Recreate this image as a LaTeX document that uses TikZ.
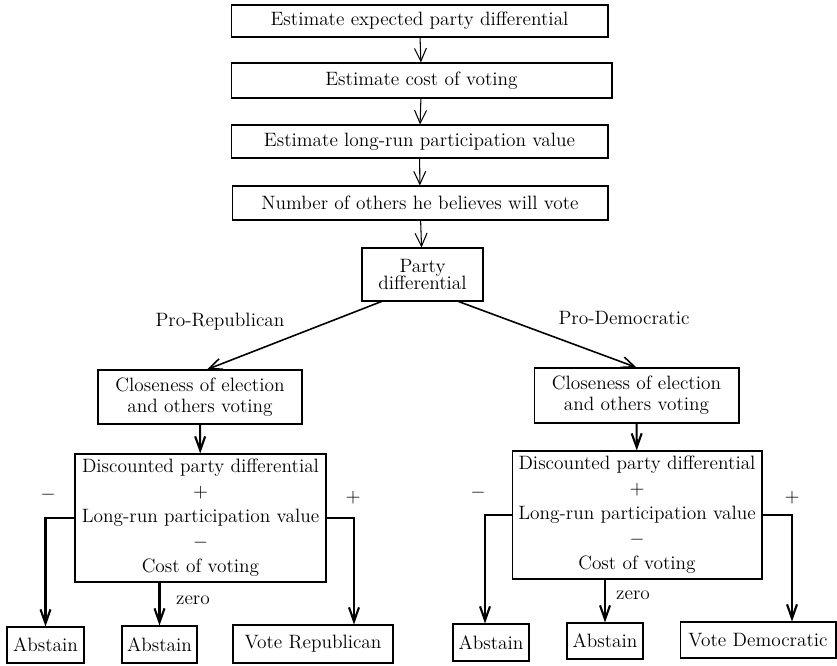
\documentclass[tikz,border=0pt]{standalone}
\usepackage{amsmath,amssymb}
\usepackage{tikz}
\usetikzlibrary{positioning,arrows.meta,calc}

\begin{document}
\begin{tikzpicture}[
  x=0.02cm, y=-0.02cm,
  lbl/.style={font=\fontsize{11}{13.5}\selectfont, inner sep=1pt},
  box/.style={draw=black, line width=0.6pt, inner sep=2pt, align=center, font=\fontsize{11}{13.5}\selectfont},
  thinarrow/.style={draw=black, line width=0.6pt, -{Straight Barb[length=2.6mm,width=2.4mm]}},
  diagarrow/.style={draw=black, line width=0.9pt, -{Straight Barb[length=2.6mm,width=2.2mm]}},
  branch/.style={draw=black, line width=1.2pt, -{Straight Barb[length=2.8mm,width=2mm]}}
]
\useasboundingbox (0,0) rectangle (837,665);

\node[box, minimum width=7.54cm, minimum height=0.64cm] (nest1) at (419.5,21) {Estimate expected party differential};
\node[box, minimum width=7.62cm, minimum height=0.70cm] (nest2) at (421.5,80.5) {Estimate cost of voting};
\node[box, minimum width=7.54cm, minimum height=0.66cm] (nest3) at (419.5,141.5) {Estimate long-run participation value};
\node[box, minimum width=7.52cm, minimum height=0.68cm] (nnum) at (420,203) {Number of others he believes will vote};
\node[box, minimum width=2.42cm, minimum height=1.06cm] (nparty) at (422.5,274.5) {Party\\[-4pt] differential};

\node[box, minimum width=4.08cm, minimum height=1.08cm] (ncloseR) at (200,397) {Closeness of election\\[-1.5pt] and others voting};
\node[box, minimum width=4.10cm, minimum height=1.10cm] (ncloseD) at (636.5,395.5) {Closeness of election\\[-1.5pt] and others voting};

\node[box, minimum width=5.02cm, minimum height=2.56cm] (ndiscR) at (200.5,518) {Discounted party differential\\[0.7pt] $+$\\[0.7pt] Long-run participation value\\[0.7pt] $-$\\[0.7pt] Cost of voting};
\node[box, minimum width=5.00cm, minimum height=2.56cm] (ndiscD) at (637,515) {Discounted party differential\\[0.7pt] $+$\\[0.7pt] Long-run participation value\\[0.7pt] $-$\\[0.7pt] Cost of voting};

\node[box, minimum width=1.54cm, minimum height=0.72cm] (nabsR1) at (45.5,645) {Abstain};
\node[box, minimum width=1.50cm, minimum height=0.74cm] (nabsR2) at (159.5,644.5) {Abstain};
\node[box, minimum width=3.20cm, minimum height=0.76cm] (nvoteR) at (313,644) {Vote Republican};
\node[box, minimum width=1.52cm, minimum height=0.74cm] (nabsD1) at (491,642.5) {Abstain};
\node[box, minimum width=1.52cm, minimum height=0.72cm] (nabsD2) at (605,641) {Abstain};
\node[box, minimum width=3.12cm, minimum height=0.72cm] (nvoteD) at (758,640) {Vote Democratic};

\draw[thinarrow] (nest1) -- (nest2);
\draw[thinarrow] (nest2) -- (nest3);
\draw[thinarrow] (nest3) -- (nnum);
\draw[thinarrow] (nnum) -- (nparty);
\draw[diagarrow] ([xshift=0.4cm]nparty.south west) -- ([xshift=0.14cm]ncloseR.north);
\draw[diagarrow] ([xshift=-0.5cm]nparty.south east) -- (ncloseD.north);
\draw[branch] (ncloseR) -- (ndiscR);
\draw[branch] (ncloseD) -- (ndiscD);
\draw[branch] (ndiscR.west) -| (nabsR1.north);
\draw[branch] (ndiscR.south -| nabsR2.north) -- (nabsR2.north);
\draw[branch] (ndiscR.east) -| ([xshift=0.82cm]nvoteR.north);
\draw[branch] (ndiscD.west) -| ([xshift=-0.12cm]nabsD1.north);
\draw[branch] (ndiscD.south -| nabsD2.north) -- (nabsD2.north);
\draw[branch] (ndiscD.east) -| ([xshift=0.68cm]nvoteD.north);

\node[lbl] at (220,322) {Pro-Republican};
\node[lbl] at (624,318) {Pro-Democratic};
\node[lbl] at (48,495) {$-$};
\node[lbl] at (353,498) {$+$};
\node[lbl] at (193,600) {zero};
\node[lbl] at (478,493) {$-$};
\node[lbl] at (792,498) {$+$};
\node[lbl] at (633,595) {zero};

\end{tikzpicture}
\end{document}
